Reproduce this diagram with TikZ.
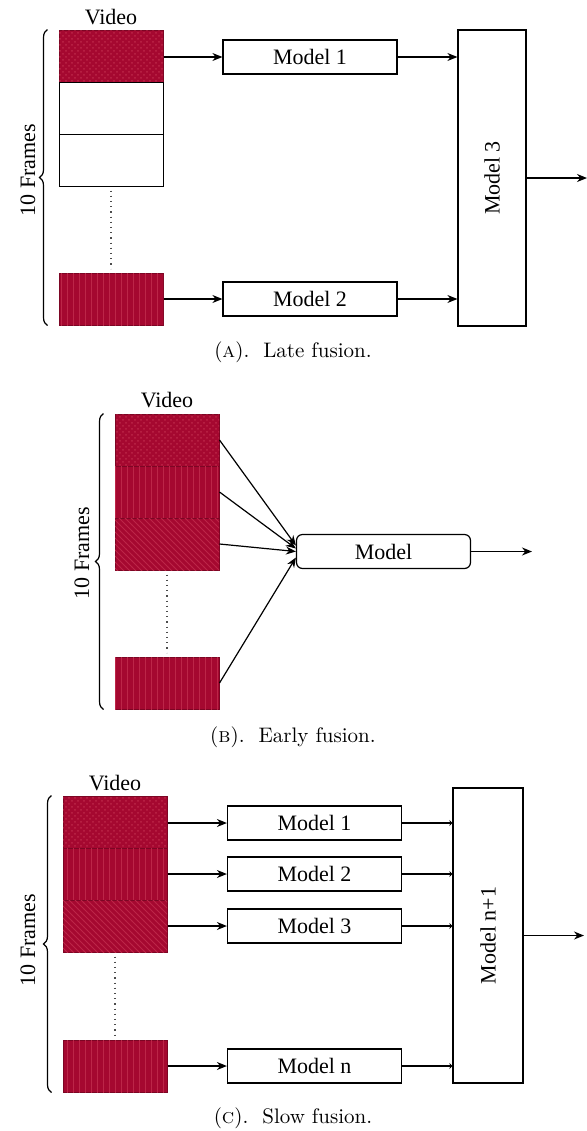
\documentclass[tikz,border=0pt]{standalone}
\usepackage{fontspec}
\newfontfamily\labelfont{Liberation Serif}
\usepackage{tikz}
\usetikzlibrary{arrows, arrows.meta, positioning, decorations.pathreplacing, patterns}
\definecolor{framered}{RGB}{165,8,48}
\definecolor{patred}{RGB}{188,38,72}

\begin{document}
\begin{tikzpicture}[x=0.5pt, y=-0.5pt]
    % Define styles for the nodes
    \tikzstyle{frame} = [
        rectangle, draw, line width=0.5pt,
        minimum width=52pt, minimum height=26pt, inner sep=0
    ]
    \tikzstyle{redframe} = [
        frame, draw=framered!75!black, fill=framered
    ]
    \tikzstyle{dots} = [postaction={pattern=crosshatch dots, pattern color=patred}]
    \tikzstyle{vlines} = [postaction={pattern=vertical lines, pattern color=patred}]
    \tikzstyle{dlines} = [postaction={pattern=north west lines, pattern color=patred}]
    \tikzstyle{model} = [
        rectangle, draw, line width=0.6pt, text centered, font=\labelfont\fontsize{11}{13}\selectfont,
        minimum width=87pt, minimum height=17pt, inner sep=0
    ]
    \tikzstyle{bigmodel} = [
        model, minimum width=34pt, minimum height=148pt
    ]
    \tikzstyle{label} = [font=\labelfont\fontsize{11}{13}\selectfont, inner sep=0]
    \tikzstyle{caption} = [font=\fontsize{10.5}{12}\selectfont, inner sep=0]
    \tikzstyle{arrow} = [line width=0.6pt, -{Stealth[length=5pt, width=4pt]}]
    \tikzstyle{tinyarrow} = [line width=0.6pt, -{Stealth[length=1.5pt, width=3pt]}]
    \tikzstyle{gap} = [dotted, black!70, line width=0.6pt, shorten <=2pt, shorten >=2pt]
    \tikzstyle{bracket} = [decorate, decoration={brace, amplitude=4pt}, line width=0.6pt]

    \useasboundingbox (0,0) rectangle (587,1131);

    % (A) Late fusion
    \node[redframe, dots] (fa0) at (111,56)  {};
    \node[frame]          (fa1) at (111,108) {};
    \node[frame]          (fa2) at (111,160) {};
    \node[redframe, vlines] (fa3) at (111,299) {};
    \node[label] (video_a) at (111,17) {Video};

    \draw[gap] (fa2.south) -- (fa3.north);
    \draw[bracket] ([xshift=-5.5pt]fa3.south west) -- ([xshift=-5.5pt]fa0.north west);
    \node[label, rotate=90] (frames_a) at (28,170) {10 Frames};

    \node[model]    (ma1) at (310,57)  {Model 1};
    \node[model]    (ma2) at (310,299) {Model 2};
    \node[bigmodel] (ma3) at (492,178) {};
    \node[label, rotate=90] at (ma3) {Model 3};
    \coordinate (out_a) at (587,178);

    \draw[arrow] (fa0.east |- ma1) -- (ma1.west);
    \draw[arrow] (fa3.east) -- (ma2.west);
    \draw[arrow] (ma1.east) -- (ma1.east -| ma3.west);
    \draw[arrow] (ma2.east) -- (ma2.east -| ma3.west);
    \draw[arrow] (ma3.east) -- (out_a);

    \node[caption] (cap_a) at (293,352) {(\textsc{a}).~~Late fusion.};

    % (B) Early fusion
    \node[redframe, dots]   (fb0) at (167,440) {};
    \node[redframe, vlines] (fb1) at (167,492) {};
    \node[redframe, dlines] (fb2) at (167,544) {};
    \node[redframe, vlines] (fb3) at (167,683) {};
    \node[label] (video_b) at (167,400) {Video};

    \draw[gap] (fb2.south) -- (fb3.north);
    \draw[bracket] ([xshift=-5.5pt]fb3.south west) -- ([xshift=-5.5pt]fb0.north west);
    \node[label, rotate=90] (frames_b) at (82,553) {10 Frames};

    \node[model, rounded corners=3pt] (mb) at (383.5,551.5) {Model};
    \coordinate (out_b) at (532,551.5);

    \draw[arrow] (fb0.east) -- ([yshift=3pt]mb.west);
    \draw[arrow] (fb1.east) -- ([yshift=1.5pt]mb.west);
    \draw[arrow] (fb2.east) -- (mb.west);
    \draw[arrow] (fb3.east) -- ([yshift=-3pt]mb.west);
    \draw[arrow] (mb.east) -- (out_b);

    \node[caption] (cap_b) at (293,737) {(\textsc{b}).~~Early fusion.};

    % (C) Slow fusion
    \node[redframe, dots]   (fc0) at (115,822)  {};
    \node[redframe, vlines] (fc1) at (115,874)  {};
    \node[redframe, dlines] (fc2) at (115,926)  {};
    \node[redframe, vlines] (fc3) at (115,1066) {};
    \node[label] (video_c) at (115,783) {Video};

    \draw[gap] (fc2.south) -- (fc3.north);
    \draw[bracket] ([xshift=-5.5pt]fc3.south west) -- ([xshift=-5.5pt]fc0.north west);
    \node[label, rotate=90] (frames_c) at (28,940) {10 Frames};

    \node[model] (mc1) at (314.5,823)  {Model 1};
    \node[model] (mc2) at (314.5,874)  {Model 2};
    \node[model] (mc3) at (314.5,926)  {Model 3};
    \node[model] (mcn) at (314.5,1066) {Model n};
    \node[bigmodel, minimum width=35pt, minimum height=147.5pt] (mcx) at (488,935.5) {};
    \node[label, rotate=90] at (mcx) {Model n+1};
    \coordinate (out_c) at (584,935.5);

    \draw[arrow] (fc0.east |- mc1) -- (mc1.west);
    \draw[arrow] (fc1.east) -- (mc2.west);
    \draw[arrow] (fc2.east) -- (mc3.west);
    \draw[arrow] (fc3.east) -- (mcn.west);
    \draw[tinyarrow] (mc1.east) -- (mc1.east -| mcx.west);
    \draw[tinyarrow] (mc2.east) -- (mc2.east -| mcx.west);
    \draw[tinyarrow] (mc3.east) -- (mc3.east -| mcx.west);
    \draw[tinyarrow] (mcn.east) -- (mcn.east -| mcx.west);
    \draw[arrow] (mcx.east) -- (out_c);

    \node[caption] (cap_c) at (293,1118) {(\textsc{c}).~~Slow fusion.};

\end{tikzpicture}
\end{document}
